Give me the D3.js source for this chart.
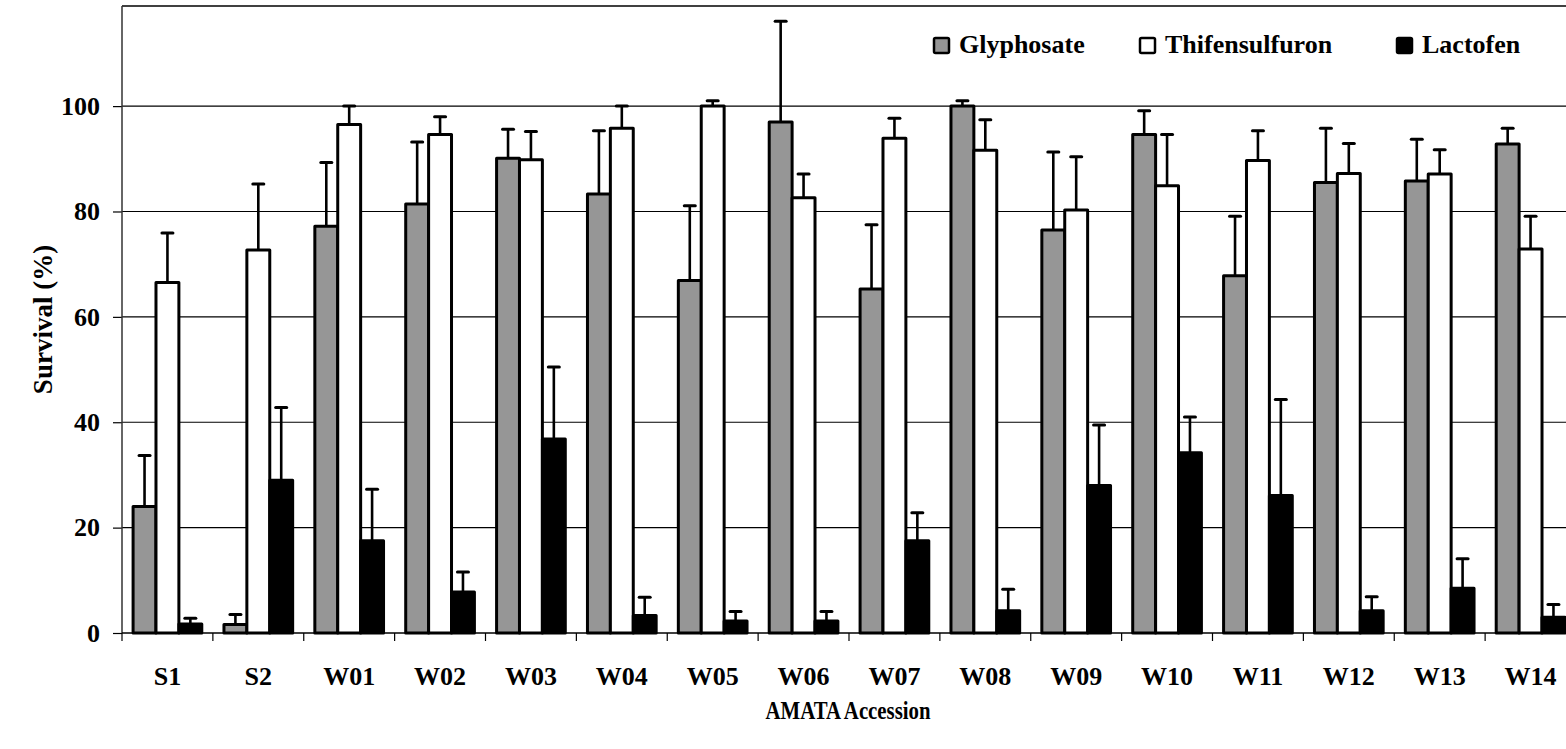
<!DOCTYPE html>
<html>
<head>
<meta charset="utf-8">
<script src="https://cdn.jsdelivr.net/npm/d3@7/dist/d3.min.js"></script>
<style>
    body { margin: 0; background: #fff; }
    text { font-family: "Liberation Serif", "Times New Roman", serif; font-weight: bold; fill: #000; }
</style>
</head>
<body>
<div id="chart"></div>
<script>
const categories = ["S1","S2","W01","W02","W03","W04","W05","W06","W07","W08","W09","W10","W11","W12","W13","W14"];
const seriesNames = ["Glyphosate","Thifensulfuron","Lactofen"];

const glyphosate    = [24.0, 1.6, 77.2, 81.4, 90.1, 83.3, 66.9, 97.0, 65.3, 100.0, 76.5, 94.6, 67.8, 85.5, 85.8, 92.8];
const glyphosateErr = [ 9.7, 1.9, 12.1, 11.8,  5.5, 12.0, 14.2, 19.1, 12.2,  1.0, 14.8,  4.5, 11.3, 10.3,  7.9,  3.0];

const thifensulfuron    = [66.5, 72.7, 96.5, 94.6, 89.8, 95.8, 100.0, 82.6, 93.9, 91.6, 80.3, 84.9, 89.7, 87.2, 87.1, 72.9];
const thifensulfuronErr = [ 9.4, 12.5,  3.5,  3.4,  5.4,  4.2,   1.0,  4.5,  3.8,  5.8, 10.1,  9.7,  5.6,  5.7,  4.6,  6.2];

const lactofen    = [1.7, 29.0, 17.5, 7.8, 36.8, 3.3, 2.3, 2.3, 17.5, 4.2, 28.0, 34.2, 26.1, 4.2, 8.5, 3.0];
const lactofenErr = [1.1, 13.8,  9.8, 3.8, 13.7, 3.5, 1.8, 1.8,  5.3, 4.1, 11.5,  6.8, 18.2, 2.7, 5.6, 2.4];

const yTicks = [0, 20, 40, 60, 80, 100];
const yMax = 119;
const xTitle = "AMATA Accession";
const yTitle = "Survival (%)";

const colores = {"Glyphosate":"#969696","Thifensulfuron":"#ffffff","Lactofen":"#000000"};

const values = {"Glyphosate":glyphosate,"Thifensulfuron":thifensulfuron,"Lactofen":lactofen};
const errors = {"Glyphosate":glyphosateErr,"Thifensulfuron":thifensulfuronErr,"Lactofen":lactofenErr};

let filas = categories.map((c,i) => ({
    cat: c,
    barras: seriesNames.map(s => ({serie: s, val: values[s][i], err: errors[s][i]}))
}));

const W = 1566, H = 749;
const margin = {left:122, top:6, right:-10, bottom:116};

let svg = d3.select("#chart").append("svg")
    .attr("width",W)
    .attr("height",H);

svg.append("rect").attr("width",W).attr("height",H).attr("fill","#fff");

let scx = d3.scaleBand(categories,[margin.left, W - margin.right])
    .paddingInner(0.244)
    .paddingOuter(0.122);
let scx1 = d3.scaleBand(seriesNames,[0, scx.bandwidth()]);
let scy = d3.scaleLinear([0,yMax],[H - margin.bottom, margin.top]);

let y0 = scy(0);
let xl = scx.range()[0], xr = scx.range()[1];

// gridlines
svg.append("g").selectAll("line")
    .data(yTicks.filter(d => d > 0))
    .join("line")
    .attr("x1",xl).attr("x2",xr)
    .attr("y1",d => scy(d)).attr("y2",d => scy(d))
    .attr("stroke","#000")
    .attr("stroke-width",1.1);

// top border
svg.append("line")
    .attr("x1",xl).attr("x2",xr)
    .attr("y1",scy(yMax)).attr("y2",scy(yMax))
    .attr("stroke","#000")
    .attr("stroke-width",1.5);

// y axis
let yAxis = svg.append("g")
    .attr("transform",`translate(${xl},0)`)
    .call(d3.axisLeft(scy).tickValues(yTicks).tickSize(9).tickPadding(13));
yAxis.select(".domain").remove();
yAxis.selectAll(".tick line").attr("stroke","#000").attr("stroke-width",1.2);
yAxis.selectAll(".tick text")
    .attr("font-size",26)
    .attr("font-family","Liberation Serif")
    .attr("font-weight","bold")
    .attr("fill","#000");

svg.append("line")
    .attr("x1",xl).attr("x2",xl)
    .attr("y1",scy(yMax)).attr("y2",y0)
    .attr("stroke","#333")
    .attr("stroke-width",1.5);

// bars
let grupos = svg.append("g").selectAll("g")
    .data(filas)
    .join("g")
    .attr("transform",d => `translate(${scx(d.cat)},0)`);

grupos.selectAll("line.err")
    .data(d => d.barras)
    .join("line")
    .attr("class","err")
    .attr("x1",d => scx1(d.serie) + scx1.bandwidth()/2)
    .attr("x2",d => scx1(d.serie) + scx1.bandwidth()/2)
    .attr("y1",d => scy(d.val))
    .attr("y2",d => scy(d.val + d.err))
    .attr("stroke","#000")
    .attr("stroke-width",2.6);

grupos.selectAll("line.cap")
    .data(d => d.barras)
    .join("line")
    .attr("class","cap")
    .attr("x1",d => scx1(d.serie) + scx1.bandwidth()/2 - 5.5)
    .attr("x2",d => scx1(d.serie) + scx1.bandwidth()/2 + 5.5)
    .attr("y1",d => scy(d.val + d.err))
    .attr("y2",d => scy(d.val + d.err))
    .attr("stroke","#000")
    .attr("stroke-width",3)
    .attr("stroke-linecap","round");

grupos.selectAll("rect")
    .data(d => d.barras)
    .join("rect")
    .attr("x",d => scx1(d.serie))
    .attr("width",scx1.bandwidth())
    .attr("y",d => scy(d.val))
    .attr("height",d => y0 - scy(d.val))
    .attr("fill",d => colores[d.serie])
    .attr("stroke","#000")
    .attr("stroke-width",3)
    .attr("stroke-linejoin","round");

// x axis
svg.append("line")
    .attr("x1",xl).attr("x2",xr)
    .attr("y1",y0).attr("y2",y0)
    .attr("stroke","#000")
    .attr("stroke-width",1.5);

svg.append("g").selectAll("line")
    .data(d3.range(categories.length + 1))
    .join("line")
    .attr("x1",i => xl + i*scx.step())
    .attr("x2",i => xl + i*scx.step())
    .attr("y1",y0).attr("y2",y0 + 8)
    .attr("stroke","#000")
    .attr("stroke-width",1.2);

svg.append("g").selectAll("text")
    .data(categories)
    .join("text")
    .attr("x",d => scx(d) + scx.bandwidth()/2)
    .attr("y",y0 + 52)
    .attr("text-anchor","middle")
    .attr("font-size",26)
    .text(d => d);

// titles (x title is narrow and tall in the original)
svg.append("text")
    .attr("transform",`translate(${(xl + xr)/2 - 1},719) scale(0.8,1)`)
    .attr("text-anchor","middle")
    .attr("font-size",26)
    .text(xTitle);

svg.append("text")
    .attr("transform",`translate(52,${(scy(yMax) + y0)/2}) rotate(-90)`)
    .attr("text-anchor","middle")
    .attr("font-size",27)
    .text(yTitle);

// legend
const legX = [933, 1139, 1396];
let leyenda = svg.append("g").selectAll("g")
    .data(seriesNames)
    .join("g")
    .attr("transform",(d,i) => `translate(${legX[i]},37)`);

leyenda.append("rect")
    .attr("x",1).attr("y",1)
    .attr("width",15).attr("height",15)
    .attr("fill",d => colores[d])
    .attr("stroke","#000")
    .attr("stroke-width",2.5)
    .attr("rx",1.5);

leyenda.append("text")
    .attr("x",26)
    .attr("y",16)
    .attr("font-size",26)
    .text(d => d);
</script>
</body>
</html>
